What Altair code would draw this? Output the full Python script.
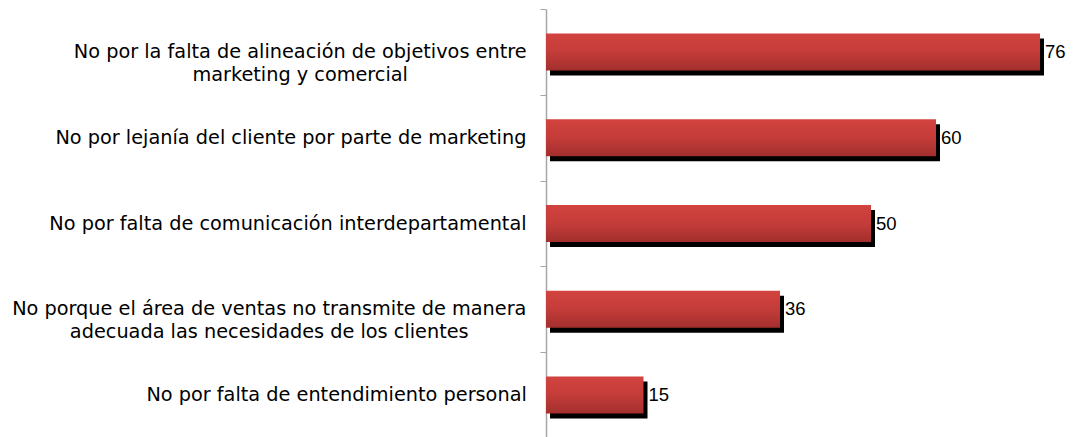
import altair as alt
import pandas as pd

categories = [
    "No por la falta de alineación de objetivos entre|marketing y comercial",
    "No por lejanía del cliente por parte de marketing",
    "No por falta de comunicación interdepartamental",
    "No porque el área de ventas no transmite de manera|adecuada las necesidades de los clientes",
    "No por falta de entendimiento personal",
]
values = [76, 60, 50, 36, 15]

FONT = "DejaVu Sans"
LABEL_SIZE = 19.3
LABEL_GAP = 19  # distance from axis line to right edge of label block

# DejaVu Sans advance widths (units per em = 2048), used to centre wrapped lines
_W = {" ": 651, "a": 1255, "b": 1300, "c": 1126, "d": 1300, "e": 1260, "f": 721,
      "g": 1300, "h": 1298, "i": 569, "j": 569, "k": 1186, "l": 569, "m": 1995,
      "n": 1298, "o": 1253, "p": 1300, "q": 1300, "r": 842, "s": 1067, "t": 803,
      "u": 1298, "v": 1212, "w": 1675, "x": 1212, "y": 1212, "z": 1075, "N": 1532,
      "á": 1255, "í": 569, "ó": 1253, "é": 1260}


def text_width(s):
    return sum(_W.get(ch, 1200) for ch in s) / 2048 * LABEL_SIZE


block_x = [-(LABEL_GAP + max(text_width(p) for p in c.split("|")) / 2) for c in categories]

df = pd.DataFrame({"cat": categories, "val": values, "lx": block_x})

gradient = alt.Gradient(
    gradient="linear",
    x1=0, x2=0, y1=0, y2=1,
    stops=[
        alt.GradientStop(color="#d2433f", offset=0),
        alt.GradientStop(color="#c43c39", offset=0.5),
        alt.GradientStop(color="#a22f2d", offset=1),
    ],
)

yenc = alt.Y(
    "cat:N",
    sort=categories,
    scale=alt.Scale(paddingInner=0, paddingOuter=0),
    axis=alt.Axis(
        title=None,
        tickBand="extent",
        labels=False,
        tickSize=6,
        tickColor="#a6a6a6",
        domainColor="#a6a6a6",
        domainWidth=1.5,
        grid=False,
    ),
)

base = alt.Chart(df).encode(
    y=yenc,
    x=alt.X("val:Q", scale=alt.Scale(domain=[0, 80]), axis=None),
)

shadow = base.mark_bar(color="#000000", height=37, xOffset=4, yOffset=5)
bars = base.mark_bar(color=gradient, height=37)
values_txt = base.mark_text(
    align="left", baseline="middle", dx=5, font="Liberation Sans", fontSize=18.5, color="#000000"
).encode(text="val:Q")

cat_labels = (
    alt.Chart(df)
    .transform_calculate(lines="split(datum.cat, '|')")
    .mark_text(align="center", baseline="middle", font=FONT, fontSize=LABEL_SIZE,
               lineHeight=23, color="#000000")
    .encode(
        y=alt.Y("cat:N", sort=categories),
        x=alt.X("lx:Q", scale=None),
        text=alt.Text("lines:N"),
    )
)

chart = (
    alt.layer(shadow, bars, values_txt, cat_labels)
    .properties(
        width=520,
        height=429,
        background="#ffffff",
        autosize=alt.AutoSizeParams(type="none"),
        padding={"left": 538, "top": 1, "right": 0, "bottom": 0},
    )
    .configure_view(strokeWidth=0, stroke="transparent")
)

chart.save("out.html", embed_options={"renderer": "svg", "actions": False})
